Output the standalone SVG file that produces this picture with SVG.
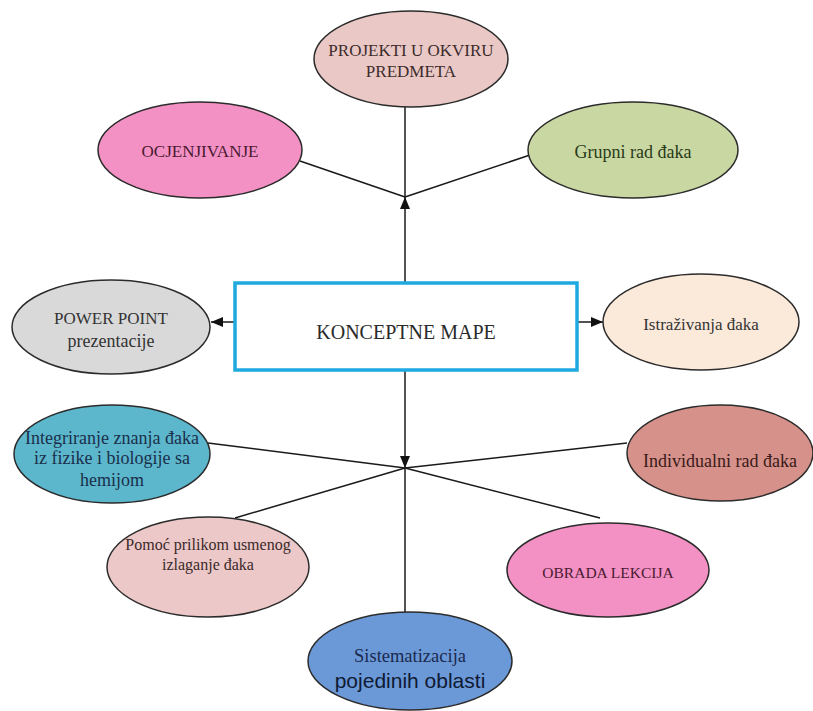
<svg xmlns="http://www.w3.org/2000/svg" width="813" height="711" viewBox="0 0 813 711">
  <style>
    .node ellipse { stroke: #2b2b2b; stroke-width: 1.5; }
    .lbl { font-family: "Liberation Serif", "Times New Roman", serif; text-anchor: middle; }
    .edge { stroke: #1a1a1a; stroke-width: 1.5; fill: none; }
  </style>
  <defs>
    <marker id="arrow" viewBox="0 0 12 10" refX="12" refY="5" markerWidth="12" markerHeight="10" markerUnits="userSpaceOnUse" orient="auto">
      <path d="M0,0 L12,5 L0,10 Z" fill="#111"/>
    </marker>
  </defs>
  <rect width="813" height="711" fill="#ffffff"/>

  <!-- connectors -->
  <g id="connectors">
    <line class="edge" x1="405" y1="283" x2="405" y2="197" marker-end="url(#arrow)"/>
    <line class="edge" x1="405" y1="197" x2="405" y2="107"/>
    <line class="edge" x1="405" y1="197" x2="300" y2="161"/>
    <line class="edge" x1="405" y1="197" x2="530" y2="155"/>
    <line class="edge" x1="234" y1="322" x2="211" y2="322" marker-end="url(#arrow)"/>
    <line class="edge" x1="578" y1="322" x2="603" y2="322" marker-end="url(#arrow)"/>
    <line class="edge" x1="405" y1="370" x2="405" y2="468" marker-end="url(#arrow)"/>
    <line class="edge" x1="405" y1="468" x2="405" y2="613"/>
    <line class="edge" x1="405" y1="468" x2="208" y2="443"/>
    <line class="edge" x1="405" y1="468" x2="235" y2="518"/>
    <line class="edge" x1="405" y1="468" x2="627" y2="443"/>
    <line class="edge" x1="405" y1="468" x2="600" y2="518"/>
  </g>

  <!-- central box -->
  <g id="konceptne-mape">
    <rect x="235" y="283" width="342" height="87" fill="#ffffff" stroke="#1ea9e0" stroke-width="3.5"/>
    <text class="lbl" x="406" y="339" font-size="20" fill="#2a2a2a">KONCEPTNE MAPE</text>
  </g>

  <g id="projekti" class="node">
    <ellipse cx="411" cy="59" rx="97" ry="48" fill="#e9c8c6"/>
    <text class="lbl" x="411" y="56" font-size="17" fill="#3d2b2b">PROJEKTI U OKVIRU</text>
    <text class="lbl" x="411" y="77" font-size="17" fill="#3d2b2b">PREDMETA</text>
  </g>

  <g id="ocjenjivanje" class="node">
    <ellipse cx="200" cy="150" rx="102" ry="48" fill="#f391c5"/>
    <text class="lbl" x="200" y="157" font-size="17" fill="#4a1a30">OCJENJIVANJE</text>
  </g>

  <g id="grupni-rad" class="node">
    <ellipse cx="633" cy="150" rx="105" ry="48" fill="#c9d8a2"/>
    <text class="lbl" x="633" y="158" font-size="18" fill="#2a3a1a">Grupni rad đaka</text>
  </g>

  <g id="power-point" class="node">
    <ellipse cx="111" cy="327" rx="99" ry="47" fill="#d9d9d9"/>
    <text class="lbl" x="111" y="324" font-size="17" fill="#333333">POWER POINT</text>
    <text class="lbl" x="111" y="347" font-size="18" fill="#333333">prezentacije</text>
  </g>

  <g id="istrazivanja" class="node">
    <ellipse cx="701" cy="322" rx="98" ry="48" fill="#fbe9da"/>
    <text class="lbl" x="701" y="330" font-size="17" fill="#333333">Istraživanja đaka</text>
  </g>

  <g id="integriranje" class="node">
    <ellipse cx="112" cy="454" rx="98" ry="49" fill="#5cb7cd"/>
    <text class="lbl" x="112" y="444" font-size="18" fill="#1a2f4a">Integriranje znanja đaka</text>
    <text class="lbl" x="112" y="464" font-size="18" fill="#1a2f4a">iz fizike i biologije sa</text>
    <text class="lbl" x="112" y="486" font-size="18" fill="#1a2f4a">hemijom</text>
  </g>

  <g id="individualni-rad" class="node">
    <ellipse cx="720" cy="453" rx="93" ry="48" fill="#d6918a"/>
    <text class="lbl" x="720" y="467" font-size="18" fill="#3a1a1a">Individualni rad đaka</text>
  </g>

  <g id="pomoc" class="node">
    <ellipse cx="208" cy="567" rx="101" ry="50" fill="#edc8c8"/>
    <text class="lbl" x="208" y="550" font-size="16" fill="#3a2a2a">Pomoć prilikom usmenog</text>
    <text class="lbl" x="208" y="570" font-size="16" fill="#3a2a2a">izlaganje đaka</text>
  </g>

  <g id="obrada-lekcija" class="node">
    <ellipse cx="608" cy="570" rx="101" ry="47" fill="#f391c5"/>
    <text class="lbl" x="608" y="578" font-size="15.5" fill="#4a1a30">OBRADA LEKCIJA</text>
  </g>

  <g id="sistematizacija" class="node">
    <ellipse cx="410" cy="661" rx="102" ry="49" fill="#6b98d7"/>
    <text class="lbl" x="410" y="662" font-size="18.5" fill="#1a2a50">Sistematizacija</text>
    <text x="410" y="688" font-size="21" fill="#0f1a33" text-anchor="middle" font-family="'Liberation Sans', Arial, sans-serif">pojedinih oblasti</text>
  </g>
</svg>
